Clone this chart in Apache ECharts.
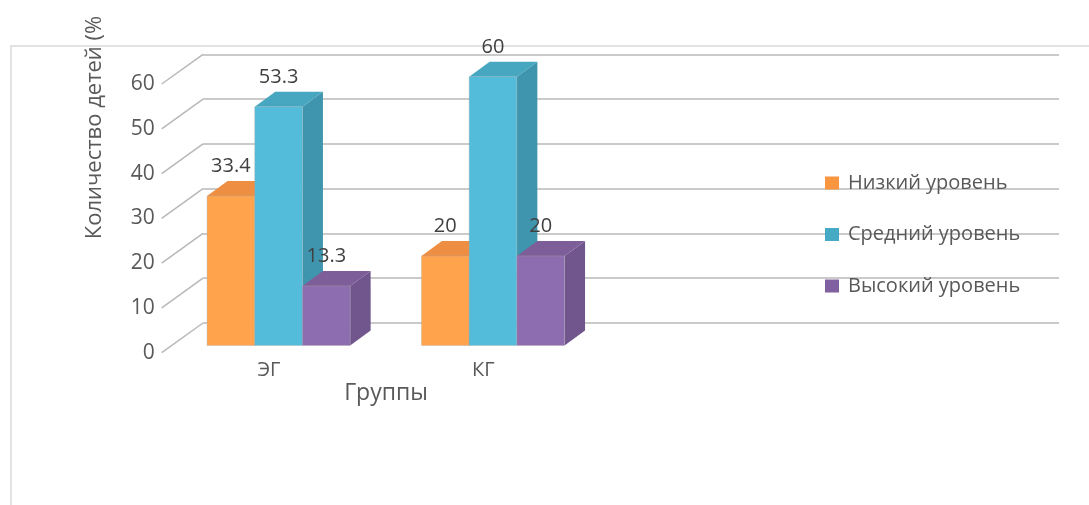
<!DOCTYPE html>
<html><head><meta charset="utf-8">
<style>html,body{margin:0;padding:0;background:#fff}#c{width:1089px;height:505px}</style>
<script src="https://cdn.jsdelivr.net/npm/echarts@6/dist/echarts.min.js"></script>
</head><body><div id="c"></div>
<script>
const categories = ["ЭГ", "КГ", "", ""];
const seriesNames = ["Низкий уровень", "Средний уровень", "Высокий уровень"];
const low = [33.4, 20];
const medium = [53.3, 60];
const high = [13.3, 20];
const yTicks = [0, 10, 20, 30, 40, 50, 60];
const legendColors = ["#F9943F", "#47AAC5", "#7F60A0"];
const frontColors = ["#FFA34D", "#52BCDA", "#8D6CB0"];
const topColors = ["#EE8E42", "#47A6C0", "#7D5E98"];
const sideColors = ["#D67F38", "#4095AE", "#70568C"];

const FONT = "'Open Sans'";
const DX = 20.5, DY = 15, BAR_RATIO = 47.7 / 214.4;
const WALL_DX = 41.3, WALL_DY = 29.7;
const H = 268.7;

function barRenderer(si, values) {
  return function (params, api) {
    const p = api.coord([api.value(0), api.value(1)]);
    const base = api.coord([api.value(0), 0]);
    const w = api.size([1, 0])[0] * BAR_RATIO;
    const x0 = p[0] + (si - 1.5) * w, x1 = x0 + w, yT = p[1], yB = base[1];
    const edge = {stroke: "rgba(170,170,170,0.45)", lineWidth: 0.8};
    return {type: "group", children: [
      {type: "polygon", shape: {points: [[x1, yT], [x1 + DX, yT - DY], [x1 + DX, yB - DY], [x1, yB]]},
        style: {fill: sideColors[si]}},
      {type: "polygon", shape: {points: [[x0, yT], [x0 + DX, yT - DY], [x1 + DX, yT - DY], [x1, yT]]},
        style: {fill: topColors[si]}},
      {type: "rect", shape: {x: x0, y: yT, width: w, height: yB - yT},
        style: Object.assign({fill: frontColors[si]}, edge)},
      {type: "text", z2: 50, style: {text: String(values[params.dataIndex]), x: x0 + w / 2, y: yT - 29.5,
        align: "center", verticalAlign: "middle", font: "20px " + FONT, fill: "#404040"}}
    ]};
  };
}
const wallRenderer = function (params, api) {
  const p = api.coord([0, api.value(0)]);
  const x = params.coordSys.x;
  return {type: "line", shape: {x1: x, y1: p[1], x2: x + WALL_DX, y2: p[1] - WALL_DY},
    style: {stroke: "#B8B8B8", lineWidth: 1.5}};
};

const bars = [low, medium, high].map((vals, si) => ({
  type: "custom", name: seriesNames[si], xAxisIndex: 2, yAxisIndex: 2,
  itemStyle: {color: legendColors[si]}, clip: false,
  encode: {x: 0, y: 1},
  data: vals.map((v, i) => [i, v]),
  renderItem: barRenderer(si, vals), z: 5
}));

const chart = echarts.init(document.getElementById("c"), null, {renderer: "canvas"});
const hiddenX = {type: "category", data: categories, show: false};
const hiddenY = {type: "value", min: 0, max: 60, interval: 10, show: false};
chart.setOption({
  backgroundColor: "#fff", animation: false,
  grid: [
    {left: 203, width: 856, top: 54.3, height: H},
    {left: 161.7, width: 857.6, top: 84, height: H},
    {left: 171.4, width: 857.6, top: 76.8, height: H}
  ],
  xAxis: [
    Object.assign({}, hiddenX, {gridIndex: 0}),
    {gridIndex: 1, type: "category", data: categories, axisLine: {show: false}, axisTick: {show: false},
      axisLabel: {margin: 8, color: "#595959", fontFamily: FONT, fontSize: 20}},
    Object.assign({}, hiddenX, {gridIndex: 2})
  ],
  yAxis: [
    {gridIndex: 0, type: "value", min: 0, max: 60, interval: 10, axisLabel: {show: false},
      axisLine: {show: false}, axisTick: {show: false},
      splitLine: {show: true, lineStyle: {color: "#B8B8B8", width: 1.5}}},
    {gridIndex: 1, type: "value", min: 0, max: 60, interval: 10, axisLine: {show: false}, axisTick: {show: false},
      splitLine: {show: false},
      axisLabel: {margin: 7, color: "#595959", fontFamily: FONT, fontSize: 21}},
    Object.assign({}, hiddenY, {gridIndex: 2})
  ],
  legend: {
    data: seriesNames, orient: "vertical", left: 825, top: 173, icon: "rect",
    itemWidth: 14, itemHeight: 13, itemGap: 31.5, padding: 0,
    textStyle: {color: "#595959", fontFamily: FONT, fontSize: 20, padding: [0, 0, 0, 4]},
    selectedMode: false
  },
  graphic: [
    {type: "rect", silent: true, z: -1, shape: {x: 11, y: 46, width: 1200, height: 600},
      style: {fill: "none", stroke: "#E2E2E2", lineWidth: 2}},
    {type: "text", silent: true, x: 95, y: 127.5, rotation: Math.PI / 2,
      style: {text: "Количество детей (%", align: "center", verticalAlign: "middle",
        font: "22px " + FONT, fill: "#595959"}},
    {type: "text", silent: true, x: 386, y: 393,
      style: {text: "Группы", align: "center", verticalAlign: "middle",
        font: "23px " + FONT, fill: "#595959"}}
  ],
  series: [
    {type: "custom", name: "walls", xAxisIndex: 1, yAxisIndex: 1, silent: true, clip: false,
      encode: {y: 0}, data: yTicks.map(v => [v]), renderItem: wallRenderer, z: 1}
  ].concat(bars)
});
</script></body></html>
